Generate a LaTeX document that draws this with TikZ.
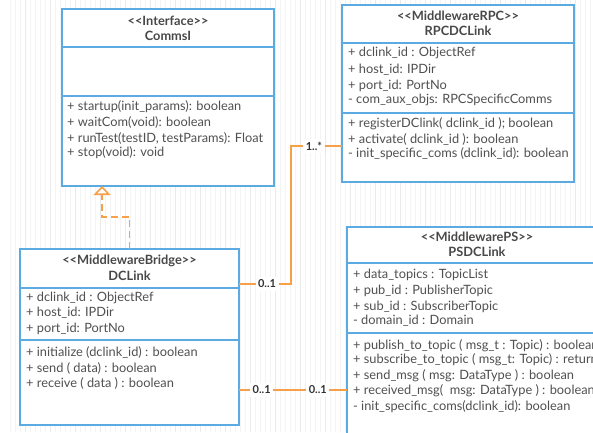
\documentclass[tikz,border=0pt]{standalone}
\usepackage{fontspec}
\setmainfont{Lato}
\usetikzlibrary{arrows.meta}

\definecolor{umlblue}{RGB}{92,170,226}
\definecolor{linkorange}{RGB}{247,160,72}
\definecolor{txtgrey}{RGB}{80,80,80}
\definecolor{titlegrey}{RGB}{72,72,72}
\definecolor{gridminor}{RGB}{244,244,244}
\definecolor{gridmajor}{RGB}{234,234,234}

\tikzset{
  classbox/.style={draw=umlblue, line width=1.6pt, fill=white, rectangle,
    inner sep=0pt, outer sep=0pt},
  divider/.style={draw=umlblue, line width=1.6pt},
  member/.style={anchor=west, inner sep=0pt, text=txtgrey,
    font=\fontsize{12.8}{15}\selectfont},
  stereo/.style={inner sep=0pt, text=titlegrey,
    font=\fontsize{12.8}{15}\selectfont\bfseries},
  realize/.style={draw=linkorange, line width=1.6pt, dash pattern=on 7pt off 4pt,
    -{Triangle[open, fill=white, width=17pt, length=9pt, line width=1.6pt]}},
  assoc/.style={draw=linkorange, line width=1.6pt},
  mult/.style={fill=white, inner sep=2.5pt, text=black!80,
    font=\fontsize{11}{13}\selectfont\bfseries},
}

\begin{document}
\begin{tikzpicture}[x=1pt, y=-1pt]
  \useasboundingbox (0,0) rectangle (593,432);
  \clip (0,0) rectangle (593,432);

  % background grid
  \fill[white] (0,0) rectangle (593,432);
  \draw[gridminor, line width=0.4pt] (10,0) grid[step=5] (593,432);
  \draw[gridmajor, line width=0.4pt] (10,0) grid[step=25] (593,432);

  % ---------- CommsI ----------
  \node[classbox, minimum width=212pt, minimum height=177pt] (commsi) at (168,97.5) {};
  \draw[divider] (62,47) -- (274,47);
  \draw[divider] (62,96) -- (274,96);
  \node[stereo] (commsiS) at (168,21) {{<}{<}Interface{>}{>}};
  \node[stereo] (commsiN) at (168,36) {CommsI};
  \node[member] (c1) at (67,107) {+ startup(init\_params): boolean};
  \node[member] (c2) at (67,122) {+ waitCom(void): boolean};
  \node[member] (c3) at (67,138) {+ runTest(testID, testParams): Float};
  \node[member] (c4) at (67,153) {+ stop(void): void};

  % ---------- RPCDCLink ----------
  \node[classbox, minimum width=232pt, minimum height=177pt] (rpc) at (458,93.5) {};
  \draw[divider] (342,43) -- (574,43);
  \draw[divider] (342,113) -- (574,113);
  \node[stereo] (rpcS) at (458,16) {{<}{<}MiddlewareRPC{>}{>}};
  \node[stereo] (rpcN) at (458,31) {RPCDCLink};
  \node[member] (r1) at (348,53) {+ dclink\_id : ObjectRef};
  \node[member] (r2) at (348,70) {+ host\_id: IPDir};
  \node[member] (r3) at (348,86) {+ port\_id: PortNo};
  \node[member] (r4) at (348,100) {- com\_aux\_objs: RPCSpecificComms};
  \node[member] (r5) at (348,124) {+ registerDClink( dclink\_id ); boolean};
  \node[member] (r6) at (348,139) {+ activate( dclink\_id ): boolean};
  \node[member] (r7) at (348,154) {- init\_specific\_coms (dclink\_id): boolean};

  % ---------- DCLink ----------
  \node[classbox, minimum width=219pt, minimum height=176pt] (dclink) at (129.5,337) {};
  \draw[divider] (20,288) -- (239,288);
  \draw[divider] (20,340) -- (239,340);
  \node[stereo] (dcS) at (129.5,261) {{<}{<}MiddlewareBridge{>}{>}};
  \node[stereo] (dcN) at (129.5,276) {DCLink};
  \node[member] (d1) at (26,298) {+ dclink\_id : ObjectRef};
  \node[member] (d2) at (26,313) {+ host\_id: IPDir};
  \node[member] (d3) at (26,329) {+ port\_id: PortNo};
  \node[member] (d4) at (26,352) {+ initialize (dclink\_id) : boolean};
  \node[member] (d5) at (26,368) {+ send ( data) : boolean};
  \node[member] (d6) at (26,383) {+ receive ( data ) : boolean};

  % ---------- PSDCLink (runs past the right edge) ----------
  \node[classbox, minimum width=263pt, minimum height=218pt] (ps) at (478.5,336) {};
  \draw[divider] (347,263) -- (610,263);
  \draw[divider] (347,333) -- (610,333);
  \node[stereo] (psS) at (477,237) {{<}{<}MiddlewarePS{>}{>}};
  \node[stereo] (psN) at (477,252) {PSDCLink};
  \node[member] (p1) at (353,275) {+ data\_topics : TopicList};
  \node[member] (p2) at (353,291) {+ pub\_id : PublisherTopic};
  \node[member] (p3) at (353,307) {+ sub\_id : SubscriberTopic};
  \node[member] (p4) at (353,321) {- domain\_id : Domain};
  \node[member] (p5) at (353,346) {+ publish\_to\_topic ( msg\_t : Topic) : boolean};
  \node[member] (p6) at (353,360) {+ subscribe\_to\_topic ( msg\_t: Topic) : return};
  \node[member] (p7) at (353,376) {+ send\_msg ( msg: DataType ) : boolean};
  \node[member] (p8) at (353,391) {+ received\_msg(\ \ msg: DataType ) : boolean};
  \node[member] (p9) at (353,407) {- init\_specific\_coms(dclink\_id): boolean};

  % ---------- connectors ----------
  % DCLink realizes CommsI
  \coordinate (realBend) at (102,217);
  \draw[realize] (dclink.north) |- (realBend) -- (realBend |- commsi.south);

  % DCLink -- RPCDCLink
  \coordinate (rpcLow) at (291,284);
  \coordinate (rpcHigh) at (291,146);
  \draw[assoc] (rpcLow -| dclink.east) -- node[mult, pos=0.54] {0..1} (rpcLow)
    -- (rpcHigh) -- node[mult, pos=0.45] {1..*} (rpcHigh -| rpc.west);

  % DCLink -- PSDCLink
  \coordinate (psRow) at (300,390);
  \draw[assoc] (psRow -| dclink.east)
    -- node[mult, pos=0.21] {0..1} node[mult, pos=0.73] {0..1} (psRow -| ps.west);
\end{tikzpicture}
\end{document}
